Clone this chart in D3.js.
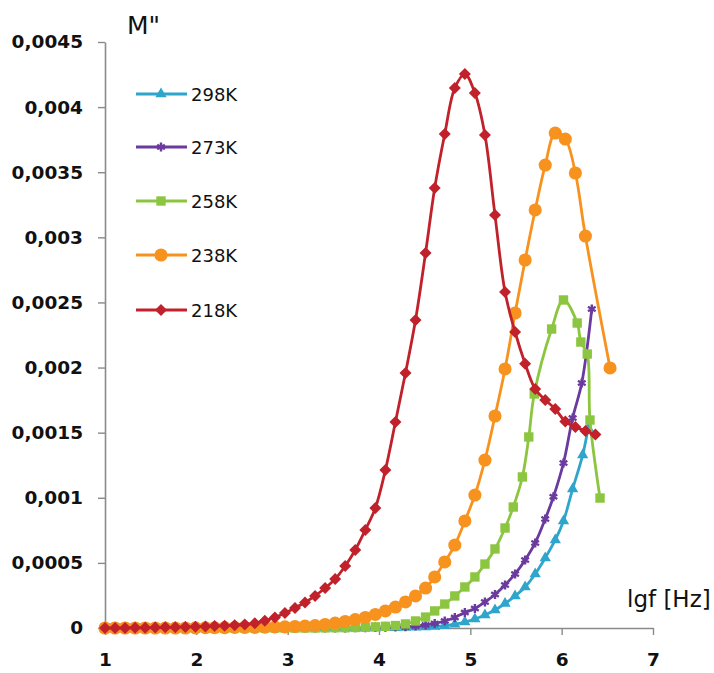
<!DOCTYPE html>
<html>
<head>
<meta charset="utf-8">
<script src="https://cdn.jsdelivr.net/npm/d3@7"></script>
<style>
  body { margin: 0; background: #fff; }
  svg { display: block; }
</style>
</head>
<body>
<svg width="714" height="673"></svg>
<script>
'use strict';

// shared lgf grid (Hz, log10)
const lgf = [1.00, 1.11, 1.22, 1.33, 1.44, 1.55, 1.66, 1.77, 1.88, 1.99,
  2.10, 2.20, 2.31, 2.42, 2.53, 2.64, 2.75, 2.86, 2.97, 3.08,
  3.19, 3.30, 3.41, 3.52, 3.63, 3.74, 3.85, 3.96, 4.07, 4.18,
  4.29, 4.40, 4.51, 4.61, 4.72, 4.83, 4.94, 5.05, 5.16, 5.27,
  5.38, 5.49, 5.60, 5.71, 5.82, 5.93, 6.04, 6.15, 6.26, 6.37];

// M'' values on the grid, plus the last points that fall off the grid
const m298 = [0, 0, 0, 0, 0, 0, 0, 0, 0, 0, 0, 0, 0, 0, 0, 0, 0, 0, 0, 0, 0, 0, 0, 0, 0, 0, 0, 0,
  0.000001, 0.000002, 0.000003, 0.000005, 0.000007, 0.000011, 0.000018, 0.000029, 0.000046, 0.000069,
  0.000100, 0.000138, 0.000188, 0.000246, 0.000315, 0.000415, 0.000538, 0.000676];
const m298TailX = [6.02, 6.12, 6.23, 6.29];
const m298TailY = [0.000822, 0.001067, 0.001328, 0.001536];

const m273 = [0, 0, 0, 0, 0, 0, 0, 0, 0, 0, 0, 0, 0, 0, 0, 0, 0, 0, 0, 0, 0, 0, 0, 0, 0,
  0.000001, 0.000002, 0.000003, 0.000005, 0.000007, 0.000010, 0.000015, 0.000023, 0.000035, 0.000054,
  0.000081, 0.000119, 0.000150, 0.000200, 0.000257, 0.000330, 0.000415, 0.000522, 0.000653, 0.000837];
const m273TailX = [5.91, 6.02, 6.12, 6.22, 6.33];
const m273TailY = [0.001008, 0.001267, 0.001613, 0.001881, 0.002450];

const m258 = [0, 0, 0, 0, 0, 0, 0, 0, 0, 0, 0, 0, 0, 0, 0, 0, 0, 0, 0, 0, 0, 0,
  0.000001, 0.000002, 0.000002, 0.000004, 0.000006, 0.000009, 0.000013, 0.000019,
  0.000031, 0.000054, 0.000084, 0.000131, 0.000184, 0.000246, 0.000315, 0.000392, 0.000491, 0.000607, 0.000768];
const m258TailX = [5.47, 5.57, 5.64, 5.70, 5.89, 6.02, 6.17, 6.21, 6.28, 6.31, 6.42];
const m258TailY = [0.000929, 0.001160, 0.001467, 0.001797, 0.002296, 0.002519, 0.002342, 0.002196, 0.002104, 0.001597, 0.000998];

const m238 = [0, 0, 0, 0, 0, 0, 0, 0, 0,
  0.000001, 0.000002, 0.000002, 0.000003, 0.000004, 0.000005, 0.000005, 0.000006, 0.000008, 0.000009, 0.000012,
  0.000015, 0.000019, 0.000027, 0.000038, 0.000050, 0.000065, 0.000081, 0.000104, 0.000131, 0.000161,
  0.000200, 0.000246, 0.000307, 0.000392, 0.000507, 0.000637, 0.000822, 0.001021, 0.001290, 0.001628,
  0.001989, 0.002419, 0.002826, 0.003210, 0.003555, 0.003801, 0.003755, 0.003494, 0.003010];
const m238TailX = [6.53];
const m238TailY = [0.001997];

const m218 = [0, 0, 0, 0.000001, 0.000002, 0.000003, 0.000005, 0.000006, 0.000008,
  0.000010, 0.000012, 0.000015, 0.000018, 0.000022, 0.000027, 0.000037, 0.000056, 0.000081, 0.000115, 0.000154,
  0.000196, 0.000246, 0.000307, 0.000376, 0.000476, 0.000599, 0.000753, 0.000921, 0.001213, 0.001582,
  0.001958, 0.002365, 0.002880, 0.003379, 0.003793, 0.004147, 0.004254, 0.004108, 0.003786, 0.003171,
  0.002580, 0.002273, 0.002030, 0.001835, 0.001751, 0.001682, 0.001585, 0.001543, 0.001513, 0.001486];
const m218TailX = [];
const m218TailY = [];

const seriesNames = ['298K', '273K', '258K', '238K', '218K'];
const xTicks = [1, 2, 3, 4, 5, 6, 7];
const yTicks = [0, 0.0005, 0.001, 0.0015, 0.002, 0.0025, 0.003, 0.0035, 0.004, 0.0045];

const colors = ['#2fa5cb', '#6a3a9f', '#8cc540', '#f7921e', '#c1212a'];
const shapes = ['triangle', 'star', 'square', 'circle', 'diamond'];

function join(vals, tx, ty) {
  return vals.map((v, i) => [lgf[i], v]).concat(tx.map((x, i) => [x, ty[i]]));
}
const series = [
  join(m298, m298TailX, m298TailY),
  join(m273, m273TailX, m273TailY),
  join(m258, m258TailX, m258TailY),
  join(m238, m238TailX, m238TailY),
  join(m218, m218TailX, m218TailY)
];

const svg = d3.select('svg');
const x = d3.scaleLinear().domain([1, 7]).range([105, 653]);
const y = d3.scaleLinear().domain([0, 0.0045]).range([628, 42]);

const tickFont = '"DejaVu Sans", sans-serif';

// axes
const fmt = d => d === 0 ? '0' : String(+d.toFixed(4)).replace('.', ',');
const yAxis = svg.append('g')
  .attr('transform', 'translate(105,0)')
  .call(d3.axisLeft(y).tickValues(yTicks).tickFormat(fmt).tickSize(7).tickPadding(15).tickSizeOuter(0));
const xAxis = svg.append('g')
  .attr('transform', 'translate(0,628)')
  .call(d3.axisBottom(x).tickValues(xTicks).tickFormat(d3.format('d')).tickSize(7).tickPadding(18).tickSizeOuter(0));

[yAxis, xAxis].forEach(a => {
  a.select('.domain').attr('stroke', '#8a8a8a').attr('stroke-width', 1.6);
  a.selectAll('.tick line').attr('stroke', '#8a8a8a').attr('stroke-width', 1.4);
  a.selectAll('.tick text')
    .attr('fill', '#111')
    .style('font-family', tickFont)
    .style('font-size', '18.5px')
    .style('font-weight', 'bold');
});

// marker drawing
function marker(g, shape, color) {
  if (shape === 'triangle') {
    g.append('path').attr('d', d3.symbol(d3.symbolTriangle, 55)()).attr('fill', color);
  } else if (shape === 'star') {
    g.append('path').attr('d', d3.symbol(d3.symbolAsterisk, 55)())
      .attr('fill', 'none').attr('stroke', color).attr('stroke-width', 2.4);
  } else if (shape === 'square') {
    g.append('path').attr('d', d3.symbol(d3.symbolSquare, 88)()).attr('fill', color);
  } else if (shape === 'circle') {
    g.append('path').attr('d', d3.symbol(d3.symbolCircle, 135)()).attr('fill', color);
  } else {
    g.append('path').attr('d', d3.symbol(d3.symbolSquare, 72)())
      .attr('transform', 'rotate(45)').attr('fill', color);
  }
}

const line = d3.line()
  .x(d => x(d[0]))
  .y(d => y(d[1]))
  .curve(d3.curveCatmullRom.alpha(0.5));

const plot = svg.append('g');
series.forEach((pts, k) => {
  const sg = plot.append('g');
  sg.append('path')
    .attr('d', line(pts))
    .attr('fill', 'none')
    .attr('stroke', colors[k])
    .attr('stroke-width', 2.8);
  sg.selectAll('g.pt')
    .data(pts)
    .join('g')
    .attr('class', 'pt')
    .attr('transform', d => `translate(${x(d[0])},${y(d[1])})`)
    .each(function () { marker(d3.select(this), shapes[k], colors[k]); });
});

// legend
const legendY = [94, 147, 201, 255, 310];
const legend = svg.append('g');
seriesNames.forEach((name, k) => {
  const lg = legend.append('g').attr('transform', `translate(0,${legendY[k]})`);
  lg.append('line')
    .attr('x1', 136).attr('x2', 187)
    .attr('stroke', colors[k]).attr('stroke-width', 2.8);
  marker(lg.append('g').attr('transform', 'translate(161,0)'), shapes[k], colors[k]);
  lg.append('text')
    .attr('x', 191).attr('y', 7)
    .attr('fill', '#111')
    .style('font-family', tickFont)
    .style('font-size', '18px')
    .text(name);
});

// axis titles
svg.append('text')
  .attr('x', 127).attr('y', 34)
  .attr('fill', '#111')
  .style('font-family', tickFont)
  .style('font-size', '25px')
  .text('M"');
svg.append('text')
  .attr('x', 627).attr('y', 607)
  .attr('fill', '#111')
  .style('font-family', tickFont)
  .style('font-size', '23px')
  .text('lgf [Hz]');
</script>
</body>
</html>
